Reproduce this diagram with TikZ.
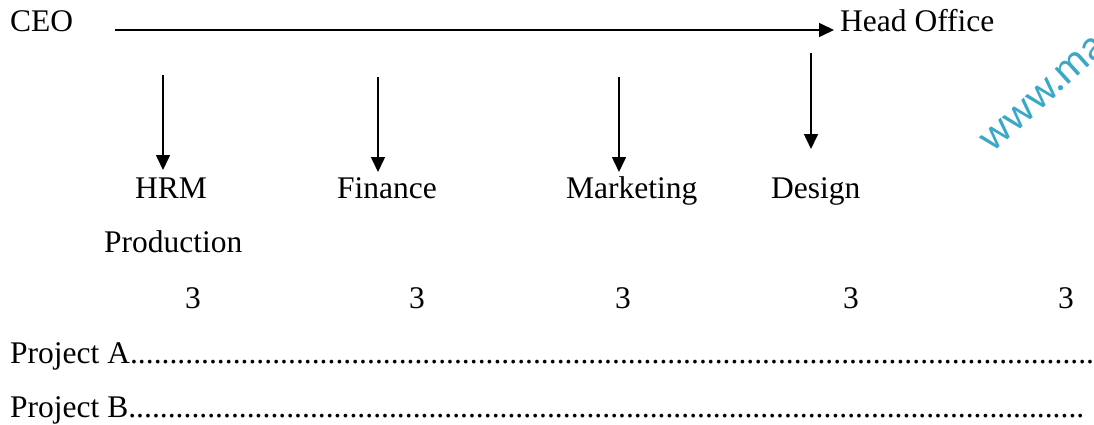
\documentclass[tikz,border=0pt]{standalone}
\usepackage{fontspec}
\setmainfont{Liberation Serif}
\newfontfamily\wmfont{Carlito}
\usetikzlibrary{arrows.meta}
\definecolor{wmcyan}{RGB}{60,168,200}
\tikzset{
  lbl/.style={anchor=base west, inner sep=0pt, font=\fontsize{31.5}{37}\selectfont},
  arr/.style={line width=1.6pt, -{Triangle[width=14pt,length=15pt]}},
}
\newcommand\dotrow[1]{\hbox to #1{\xleaders\hbox{.}\hfill}}
\begin{document}
\begin{tikzpicture}[x=1pt,y=-1pt]
\useasboundingbox (0,0) rectangle (1094,425);
\begin{scope}
\clip (0,0) rectangle (1094,425);
\node[anchor=base west, inner sep=0pt, rotate=42, text=wmcyan, font=\wmfont\fontsize{43}{50}\selectfont] (wm) at (992,154) {www.ma};
\end{scope}
\node[lbl] (ceo) at (10,32) {CEO};
\node[lbl] (ho) at (840,32) {Head Office};
\node[lbl] (hrm) at (135,198) {HRM};
\node[lbl] (fin) at (337,198) {Finance};
\node[lbl] (mkt) at (566,198) {Marketing};
\node[lbl] (des) at (771,198) {Design};
\node[lbl] (prod) at (104,252) {Production};
\node[lbl] (t1) at (185,308) {3};
\node[lbl] (t2) at (409,308) {3};
\node[lbl] (t3) at (615,308) {3};
\node[lbl] (t4) at (843,308) {3};
\node[lbl] (t5) at (1058,308) {3};
\node[lbl] (pa) at (10,363) {Project A\dotrow{972pt}};
\node[lbl] (pb) at (10,417) {Project B\dotrow{956pt}};
\coordinate (hs) at (115,30);
\coordinate (he) at (834,30);
\draw[arr] (hs) -- (he);
\coordinate (a1) at (163,75);  \coordinate (b1) at (163,170);
\coordinate (a2) at (378,77);  \coordinate (b2) at (378,172);
\coordinate (a3) at (619,77);  \coordinate (b3) at (619,172);
\coordinate (a4) at (811,53);  \coordinate (b4) at (811,149);
\draw[arr] (a1) -- (b1);
\draw[arr] (a2) -- (b2);
\draw[arr] (a3) -- (b3);
\draw[arr] (a4) -- (b4);
\end{tikzpicture}
\end{document}
